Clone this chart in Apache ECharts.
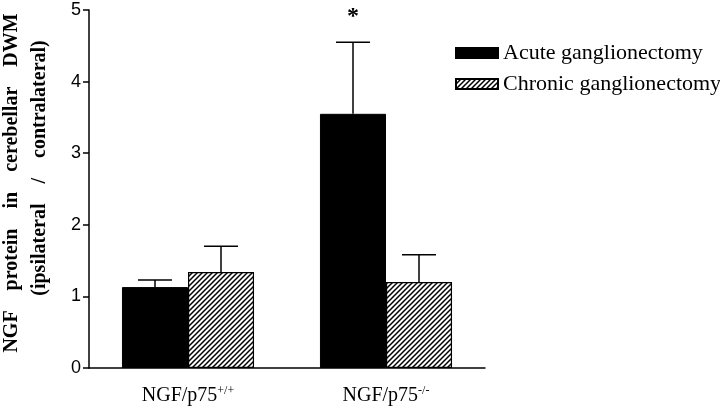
<!DOCTYPE html>
<html>
<head>
<meta charset="utf-8">
<script src="https://cdn.jsdelivr.net/npm/echarts@6/dist/echarts.min.js"></script>
<style>
  html, body { margin: 0; padding: 0; background: #fff; }
  #chart { width: 720px; height: 414px; }
</style>
</head>
<body>
<div id="chart"></div>
<script>
// Data
const categories = ['NGF/p75{sup|+/+}', 'NGF/p75{sup|-/-}']
const seriesNames = ['Acute ganglionectomy', 'Chronic ganglionectomy']
const acuteMean = [1.13, 3.55]
const acuteErr = [0.10, 1.00]
const chronicMean = [1.34, 1.20]
const chronicErr = [0.36, 0.38]
const acuteMarks = ['', '*']
const yTicks = [0, 1, 2, 3, 4, 5]
const yTitleLines = ['NGF    protein    in    cerebellar    DWM', '(ipsilateral    /    contralateral)']

// Diagonal hatch pattern for the chronic bars
const makeHatch = () => {
  const size = 5
  const c = document.createElement('canvas')
  c.width = size
  c.height = size
  const ctx = c.getContext('2d')
  ctx.fillStyle = '#fff'
  ctx.fillRect(0, 0, size, size)
  ctx.strokeStyle = '#000'
  ctx.lineWidth = 1.5
  ctx.beginPath()
  ctx.moveTo(0, size); ctx.lineTo(size, 0)
  ctx.moveTo(-1, 1); ctx.lineTo(1, -1)
  ctx.moveTo(size - 1, size + 1); ctx.lineTo(size + 1, size - 1)
  ctx.stroke()
  return c
}
const hatch = { image: makeHatch(), repeat: 'repeat' }

const serif = '"Liberation Serif", "Times New Roman", serif'
const sans = '"Liberation Sans", Arial, sans-serif'

// upper error bar, drawn over a bar shifted by side * band/6
const errorBars = (marks, side) => (params, api) => {
  const i = api.value(0)
  const band = api.size([1, 0])[0]
  const x = api.coord([i, 0])[0] + side * band / 6
  const yTop = api.coord([i, api.value(1)])[1]
  const yErr = api.coord([i, api.value(1) + api.value(2)])[1]
  const style = { stroke: '#000', lineWidth: 1.5 }
  const children = [
    { type: 'line', shape: { x1: x, y1: yTop, x2: x, y2: yErr }, style },
    { type: 'line', shape: { x1: x - 17, y1: yErr, x2: x + 17, y2: yErr }, style }
  ]
  if (marks[i]) {
    children.push({
      type: 'text',
      style: {
        text: marks[i], x: x, y: yErr - 25, align: 'center', verticalAlign: 'middle',
        font: 'bold 24px ' + serif, fill: '#000'
      }
    })
  }
  return { type: 'group', children }
}

// rotated two-line y axis title
const titleText = (text, x, y) => ({
  type: 'text',
  x: x,
  y: y,
  rotation: Math.PI / 2,
  style: {
    text: text, align: 'center', verticalAlign: 'middle',
    font: 'bold 20px ' + serif, fill: '#000'
  }
})

const chart = echarts.init(document.getElementById('chart'))
chart.setOption({
  animation: false,
  backgroundColor: '#fff',
  grid: { left: 89, right: 235, top: 10, bottom: 46, containLabel: false, outerBoundsMode: 'none' },
  graphic: [
    titleText(yTitleLines[0], 12, 183),
    titleText(yTitleLines[1], 40, 168)
  ],
  legend: {
    data: seriesNames,
    orient: 'vertical',
    left: 455,
    top: 42,
    padding: 0,
    itemWidth: 42,
    itemHeight: 10,
    itemGap: 9,
    icon: 'rect',
    textStyle: { fontFamily: serif, fontSize: 22, color: '#000' }
  },
  xAxis: {
    type: 'category',
    data: categories,
    axisLine: { lineStyle: { color: '#000', width: 1.5 } },
    axisTick: { show: false },
    axisLabel: {
      interval: 0,
      margin: 17,
      color: '#000',
      fontFamily: serif,
      fontSize: 20,
      rich: {
        sup: { fontFamily: serif, fontSize: 12, verticalAlign: 'top', padding: [0, 0, 9, 0] }
      }
    }
  },
  yAxis: {
    type: 'value',
    min: yTicks[0],
    max: yTicks[yTicks.length - 1],
    interval: 1,
    axisLine: { show: true, lineStyle: { color: '#000', width: 1.5 } },
    axisTick: { show: true, length: 6, lineStyle: { color: '#000', width: 1.5 } },
    axisLabel: { margin: 8, color: '#000', fontFamily: sans, fontSize: 18 },
    splitLine: { show: false }
  },
  series: [
    {
      name: seriesNames[0],
      type: 'bar',
      data: acuteMean,
      barGap: '0%',
      barCategoryGap: '33.3%',
      itemStyle: { color: '#000', borderColor: '#000', borderWidth: 1 }
    },
    {
      name: seriesNames[1],
      type: 'bar',
      data: chronicMean,
      itemStyle: { color: hatch, borderColor: '#000', borderWidth: 1.2 }
    },
    {
      name: 'acute-err',
      type: 'custom',
      z: 5,
      renderItem: errorBars(acuteMarks, -1),
      data: acuteMean.map((v, i) => [i, v, acuteErr[i]])
    },
    {
      name: 'chronic-err',
      type: 'custom',
      z: 5,
      renderItem: errorBars([], 1),
      data: chronicMean.map((v, i) => [i, v, chronicErr[i]])
    }
  ]
})
</script>
</body>
</html>
